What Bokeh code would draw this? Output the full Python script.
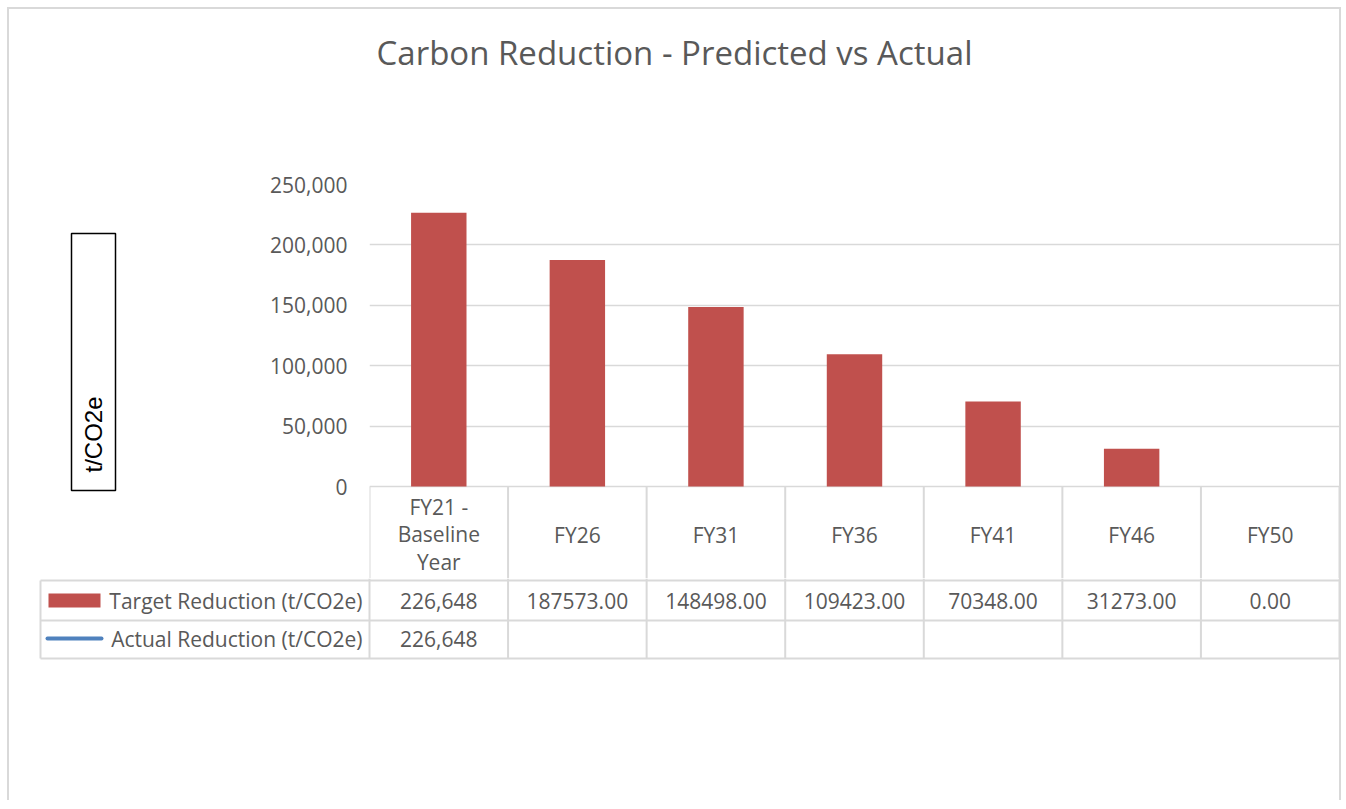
import math
import numpy as np
from bokeh.plotting import figure
from bokeh.layouts import column, row
from bokeh.models import Range1d, FixedTicker, NumeralTickFormatter, ColumnDataSource
from bokeh.core.properties import value
from bokeh.embed import file_html
from bokeh.resources import INLINE

# ---------------- data ----------------
title_text = "Carbon Reduction - Predicted vs Actual"
y_label = "t/CO2e"
categories = ["FY21 - Baseline Year", "FY26", "FY31", "FY36", "FY41", "FY46", "FY50"]
category_labels = ["FY21 -\nBaseline\nYear", "FY26", "FY31", "FY36", "FY41", "FY46", "FY50"]
series_names = ["Target Reduction (t/CO2e)", "Actual Reduction (t/CO2e)"]
target_reduction = [226648, 187573, 148498, 109423, 70348, 31273, 0]
actual_reduction = [226648, None, None, None, None, None, None]
target_table_text = ["226,648", "187573.00", "148498.00", "109423.00", "70348.00", "31273.00", "0.00"]
actual_table_text = ["226,648", "", "", "", "", "", ""]
y_ticks = [0, 50000, 100000, 150000, 200000, 250000]

# ---------------- styles / layout constants (page pixels) ----------------
BAR_COLOR = "#c0504d"
LINE_COLOR = "#4f81bd"
GRID_COLOR = "#d9d9d9"
TEXT_COLOR = "#595959"
FONT = value("Open Sans")
FS = "21px"

X0, X1 = 9, 1339           # content left/right
Y0 = 9                     # content top
Y_T = 165                  # title strip bottom
Y_SPLIT = 578              # chart / table split
Y_END = 800                # content bottom
X_L = 250                  # left strip right edge
FRAME_L = 369              # plot frame left
FRAME_T = 184              # y = 250,000
ZERO_Y = 486               # y = 0
n = len(categories)
CAT_W = (X1 - FRAME_L) / n
Y_MAX = y_ticks[-1]
PLOT_PX = ZERO_Y - FRAME_T


def px2x(px):
    return (px - FRAME_L) / CAT_W


def py2y(py):
    return (ZERO_Y - py) * Y_MAX / PLOT_PX


def base_fig(w, h, xr, yr, **kw):
    return figure(width=w, height=h, x_range=xr, y_range=yr, toolbar_location=None,
                  output_backend="svg", min_border=0, outline_line_color=None, **kw)


# ---------------- title ----------------
pT = base_fig(X1 - X0, Y_T - Y0, Range1d(X0, X1), Range1d(-Y_T, -Y0),
              x_axis_location=None, y_axis_location=None)
pT.grid.visible = False
pT.text(x=[(X0 + X1) / 2], y=[-52], text=[title_text], text_font=FONT,
        text_font_size="33px", text_color=TEXT_COLOR, text_align="center",
        text_baseline="middle")

# ---------------- left strip (axis title box); frame aligned with main frame ----------------
pL = base_fig(X_L - X0, Y_SPLIT - Y_T, Range1d(X0, X_L), Range1d(-Y_SPLIT, -FRAME_T),
              x_axis_location=None, y_axis_location=None, min_border_top=FRAME_T - Y_T)
pL.grid.visible = False
pL.quad(left=[71], right=[115], top=[-233], bottom=[-490], fill_color=None,
        line_color="black", line_width=1.5)
pL.text(x=[93], y=[-472], text=[y_label], angle=math.pi / 2, text_font=value("Liberation Sans"),
        text_font_size="24px", text_color="black", text_align="left", text_baseline="middle")

# ---------------- main chart (with header row of the data table) ----------------
y_min = py2y(Y_SPLIT)
pA = base_fig(X1 - X_L, Y_SPLIT - Y_T, Range1d(0, n), Range1d(y_min, Y_MAX),
              x_axis_location=None, min_border_left=FRAME_L - X_L,
              min_border_top=FRAME_T - Y_T, min_border_bottom=0, min_border_right=0)
pA.xgrid.visible = False
ax = pA.yaxis[0]
ax.ticker = FixedTicker(ticks=y_ticks)
ax.formatter = NumeralTickFormatter(format="0,0")
ax.axis_line_color = None
ax.major_tick_line_color = None
ax.minor_tick_line_color = None
ax.major_tick_out = 0
ax.major_tick_in = 0
ax.major_label_standoff = 22
ax.major_label_text_font = "Open Sans"
ax.major_label_text_font_size = FS
ax.major_label_text_color = TEXT_COLOR
pA.ygrid.grid_line_color = GRID_COLOR
pA.ygrid.grid_line_width = 1.5

xc = np.arange(n) + 0.5
src = ColumnDataSource(dict(
    x=xc,
    target=target_reduction,
    actual=[np.nan if v is None else v for v in actual_reduction],
))
pA.vbar(x="x", top="target", bottom=0, width=0.4, source=src, fill_color=BAR_COLOR, line_color=None)
pA.line(x="x", y="actual", source=src, line_color=LINE_COLOR, line_width=3)
bounds = np.arange(n + 1)
pA.segment(x0=bounds, y0=0, x1=bounds, y1=y_min, line_color=GRID_COLOR, line_width=2)
pA.text(x=xc, y=[py2y(534)] * n, text=category_labels, text_font=FONT, text_font_size=FS,
        text_color=TEXT_COLOR, text_align="center", text_baseline="middle", text_line_height=0.98)

# ---------------- data table rows ----------------
pB = base_fig(X1 - X0, Y_END - Y_SPLIT, Range1d(px2x(X0), px2x(X1)), Range1d(-Y_END, -Y_SPLIT),
              x_axis_location=None, y_axis_location=None)
pB.grid.visible = False
HDR_B, R1_B, R2_B = 580, 620, 658
TBL_L = px2x(40)
pB.segment(x0=bounds, y0=-Y_SPLIT, x1=bounds, y1=-R2_B, line_color=GRID_COLOR, line_width=2)
pB.segment(x0=[TBL_L], y0=[-HDR_B], x1=[TBL_L], y1=[-R2_B], line_color=GRID_COLOR, line_width=2)
pB.segment(x0=[TBL_L] * 3, y0=[-HDR_B, -R1_B, -R2_B], x1=[n] * 3, y1=[-HDR_B, -R1_B, -R2_B],
           line_color=GRID_COLOR, line_width=2)

pB.text(x=xc, y=[-600] * n, text=target_table_text, text_font=FONT, text_font_size=FS,
        text_color=TEXT_COLOR, text_align="center", text_baseline="middle")
pB.text(x=xc, y=[-638] * n, text=actual_table_text, text_font=FONT, text_font_size=FS,
        text_color=TEXT_COLOR, text_align="center", text_baseline="middle")
pB.text(x=[px2x(362)] * 2, y=[-600, -638], text=series_names, text_font=FONT, text_font_size=FS,
        text_color=TEXT_COLOR, text_align="right", text_baseline="middle")
# legend keys
pB.quad(left=[px2x(48)], right=[px2x(100)], top=[-593], bottom=[-607], fill_color=BAR_COLOR, line_color=None)
pB.line(x=[px2x(47), px2x(101)], y=[-638, -638], line_color=LINE_COLOR, line_width=4, line_cap="round")

layout = column(
    pT, row(pL, pA), pB,
    styles={"margin-left": "7px", "margin-top": "7px",
            "border-left": "2px solid #d9d9d9", "border-top": "2px solid #d9d9d9",
            "border-right": "2px solid #d9d9d9"},
)

open("out.html", "w").write(file_html(layout, INLINE))
